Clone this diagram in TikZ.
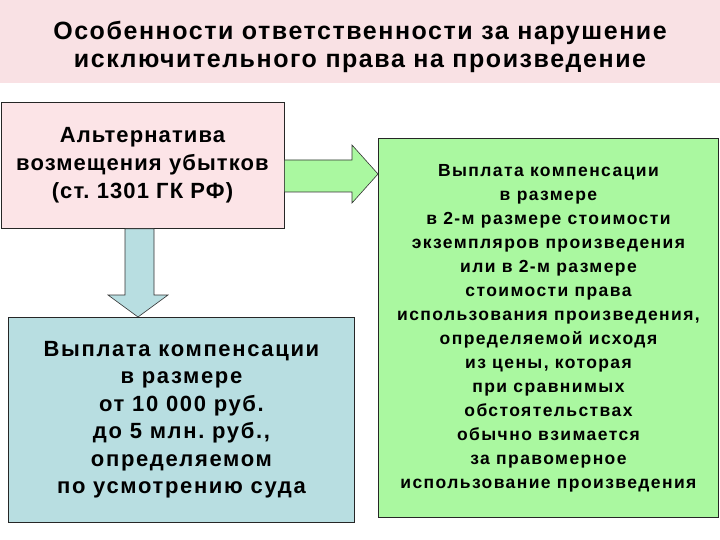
\documentclass[tikz,border=0pt]{standalone}
\usepackage{fontspec}
\setmainfont{Liberation Sans}
\newfontfamily\headfont[LetterSpace=6.2]{Liberation Sans}
\newfontfamily\altfont[LetterSpace=5]{Liberation Sans}
\newfontfamily\doublefont[LetterSpace=8]{Liberation Sans}
\newfontfamily\fixedfont[LetterSpace=7.5]{Liberation Sans}
\frenchspacing
\usetikzlibrary{calc}
\definecolor{headpink}{RGB}{249,225,228}
\definecolor{altpink}{RGB}{252,228,231}
\definecolor{compgreen}{RGB}{170,248,160}
\definecolor{compblue}{RGB}{184,222,225}
\begin{document}
\begin{tikzpicture}[x=1pt,y=-1pt,
  box/.style={draw=black!85,line width=0.9pt,align=center,inner sep=0pt,anchor=north west},
  blockarrow/.style={draw=black!80,line width=0.6pt,line join=miter}]
\useasboundingbox (0,0) rectangle (720,540);
\fill[white] (0,0) rectangle (720,540);
% title band
\fill[headpink] (0,0) rectangle (720,83);
\node[font=\headfont\fontsize{25}{27.5}\selectfont\bfseries,align=center] (title) at (360,47)
  {Особенности ответственности за нарушение\\исключительного права на произведение};
% boxes
\node[box,fill=altpink,minimum width=283pt,minimum height=126pt,font=\altfont\fontsize{22}{28}\selectfont\bfseries] (alt) at (0.5,102)
  {Альтернатива\\возмещения убытков\\(ст. 1301 ГК РФ)};
\node[box,fill=compgreen,minimum width=340pt,minimum height=379pt,font=\doublefont\fontsize{17.5}{24}\selectfont\bfseries] (double) at (378,138)
  {Выплата компенсации\\в размере\\в 2-м размере стоимости\\экземпляров произведения\\или в 2-м размере\\стоимости права\\использования произведения,\\определяемой исходя\\из цены, которая\\при сравнимых\\обстоятельствах\\обычно взимается\\за правомерное\\использование произведения};
\node[box,fill=compblue,minimum width=346pt,minimum height=205pt,font=\fixedfont\fontsize{22}{27.5}\selectfont\bfseries] (fixed) at (8,317)
  {Выплата компенсации\\в размере\\от 10 000 руб.\\до 5 млн. руб.,\\определяемом\\по усмотрению суда};
% block arrows
\draw[blockarrow,fill=compgreen] (alt.east |- 0,160) -- (352,160) -- (352,145) -- (double.west |- 0,174)
  -- (352,203) -- (352,192) -- (alt.east |- 0,192) -- cycle;
\draw[blockarrow,fill=compblue] (125,0 |- alt.south) -- (125,295) -- (108,295) -- (fixed.north -| 138,0)
  -- (168,295) -- (154,295) -- (154,0 |- alt.south) -- cycle;
\end{tikzpicture}
\end{document}
